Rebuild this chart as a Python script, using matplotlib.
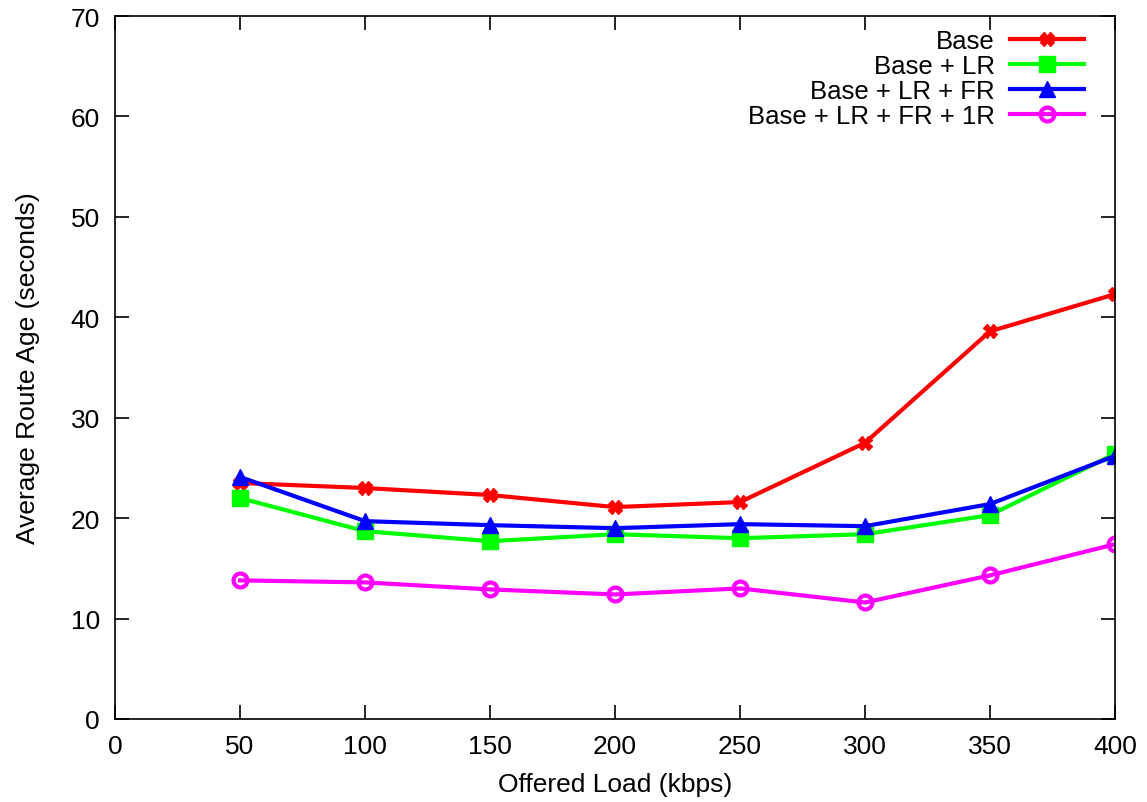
import matplotlib
matplotlib.use("Agg")
import matplotlib.pyplot as plt

plt.rcParams['font.family'] = ['Liberation Sans', 'DejaVu Sans']

load = [50, 100, 150, 200, 250, 300, 350, 400]
base = [23.5, 23.0, 22.3, 21.1, 21.6, 27.5, 38.6, 42.3]
base_lr = [22.0, 18.7, 17.7, 18.4, 18.0, 18.4, 20.3, 26.4]
base_lr_fr = [24.1, 19.7, 19.3, 19.0, 19.4, 19.2, 21.4, 26.2]
base_lr_fr_1r = [13.8, 13.6, 12.9, 12.4, 13.0, 11.6, 14.3, 17.4]

fig = plt.figure(figsize=(11.47, 8.03), dpi=100)
ax = fig.add_axes([0.1003, 0.1034, 0.8718, 0.8754])

ax.plot(load, base, '-X', color='#ff0000', lw=3, ms=10, label='Base')
ax.plot(load, base_lr, '-s', color='#00ff00', lw=3, ms=11, label='Base + LR')
ax.plot(load, base_lr_fr, '-^', color='#0000ff', lw=3, ms=12, label='Base + LR + FR')
ax.plot(load, base_lr_fr_1r, '-o', color='#ff00ff', lw=3, ms=10, mfc='none', mew=3,
        label='Base + LR + FR + 1R')

ax.set_xlim(0, 400)
ax.set_ylim(0, 70)
ax.set_xticks(range(0, 401, 50))
ax.set_yticks(range(0, 71, 10))
ax.tick_params(direction='in', top=True, right=True, length=10, width=1.2,
               labelsize=19, pad=11)
for s in ax.spines.values():
    s.set_linewidth(1.2)

ax.set_xlabel('Offered Load (kbps)', fontsize=19, labelpad=10)
ax.set_ylabel('Average Route Age (seconds)', fontsize=19, labelpad=22)

ax.legend(loc='upper right', frameon=False, markerfirst=False, fontsize=18.5,
          handlelength=2.85, handletextpad=0.6, labelspacing=0.05,
          borderaxespad=0.3, borderpad=0.3, bbox_to_anchor=(0.984, 1.004))

fig.savefig('out.png', dpi=100)
